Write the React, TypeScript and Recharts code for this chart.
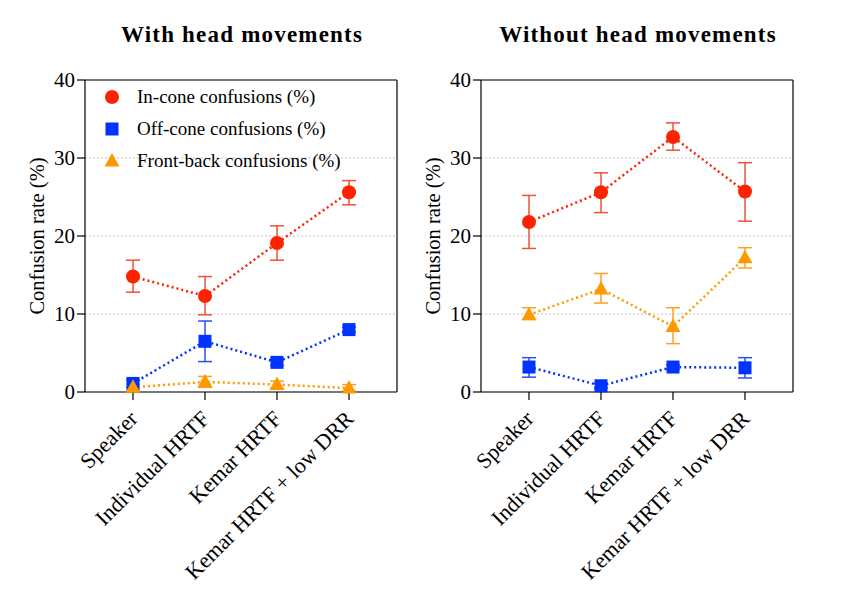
import React from 'react';
import { LineChart, Line, XAxis, YAxis, CartesianGrid, ErrorBar, Legend, ReferenceLine } from 'recharts';

const CATEGORIES = ['Speaker', 'Individual HRTF', 'Kemar HRTF', 'Kemar HRTF + low DRR'];

// With head movements
const WITH_IN_CONE = [14.8, 12.3, 19.1, 25.6];
const WITH_IN_CONE_LOW = [12.8, 9.9, 16.9, 24.0];
const WITH_IN_CONE_HIGH = [16.9, 14.8, 21.3, 27.1];
const WITH_OFF_CONE = [1.1, 6.5, 3.8, 8.0];
const WITH_OFF_CONE_LOW = [0.6, 3.9, 3.4, 7.7];
const WITH_OFF_CONE_HIGH = [1.6, 9.1, 4.2, 8.3];
const WITH_FRONT_BACK = [0.6, 1.3, 0.95, 0.5];
const WITH_FRONT_BACK_LOW = [0.2, 0.6, 0.5, 0.1];
const WITH_FRONT_BACK_HIGH = [1.0, 2.0, 1.4, 0.95];

// Without head movements
const WITHOUT_IN_CONE = [21.8, 25.6, 32.7, 25.7];
const WITHOUT_IN_CONE_LOW = [18.4, 23.0, 31.0, 21.9];
const WITHOUT_IN_CONE_HIGH = [25.2, 28.1, 34.5, 29.4];
const WITHOUT_OFF_CONE = [3.2, 0.8, 3.2, 3.1];
const WITHOUT_OFF_CONE_LOW = [1.9, 0.5, 2.9, 1.8];
const WITHOUT_OFF_CONE_HIGH = [4.4, 1.1, 3.5, 4.4];
const WITHOUT_FRONT_BACK = [9.9, 13.2, 8.4, 17.2];
const WITHOUT_FRONT_BACK_LOW = [9.3, 11.4, 6.2, 15.9];
const WITHOUT_FRONT_BACK_HIGH = [10.8, 15.2, 10.8, 18.5];

const Y_TICKS = [0, 10, 20, 30, 40];
const RIGHT_TICKS = Array.from({ length: 51 }, (_, i) => +(i * 0.8).toFixed(2));

const RED = '#ff2200';
const BLUE = '#0033ff';
const ORANGE = '#ff9900';
const FONT = '"Liberation Serif", "DejaVu Serif", serif';

const buildRows = (
  inCone: number[], inLow: number[], inHigh: number[],
  offCone: number[], offLow: number[], offHigh: number[],
  fb: number[], fbLow: number[], fbHigh: number[],
) =>
  CATEGORIES.map((name, i) => ({
    name,
    inCone: inCone[i],
    inConeErr: [inCone[i] - inLow[i], inHigh[i] - inCone[i]],
    offCone: offCone[i],
    offConeErr: [offCone[i] - offLow[i], offHigh[i] - offCone[i]],
    frontBack: fb[i],
    frontBackErr: [fb[i] - fbLow[i], fbHigh[i] - fb[i]],
  }));

const withData = buildRows(
  WITH_IN_CONE, WITH_IN_CONE_LOW, WITH_IN_CONE_HIGH,
  WITH_OFF_CONE, WITH_OFF_CONE_LOW, WITH_OFF_CONE_HIGH,
  WITH_FRONT_BACK, WITH_FRONT_BACK_LOW, WITH_FRONT_BACK_HIGH,
);
const withoutData = buildRows(
  WITHOUT_IN_CONE, WITHOUT_IN_CONE_LOW, WITHOUT_IN_CONE_HIGH,
  WITHOUT_OFF_CONE, WITHOUT_OFF_CONE_LOW, WITHOUT_OFF_CONE_HIGH,
  WITHOUT_FRONT_BACK, WITHOUT_FRONT_BACK_LOW, WITHOUT_FRONT_BACK_HIGH,
);

// marker shapes
const Marker = ({ kind, cx, cy, color }: { kind: string; cx: number; cy: number; color: string }) => {
  if (kind === 'circle') return <circle cx={cx} cy={cy} r={7} fill={color} />;
  if (kind === 'square') return <rect x={cx - 6.5} y={cy - 6.5} width={13} height={13} fill={color} />;
  return <polygon points={`${cx},${cy - 8} ${cx + 7.5},${cy + 5.5} ${cx - 7.5},${cy + 5.5}`} fill={color} />;
};

const makeDot = (kind: string, color: string) => (props: any) => (
  <Marker key={`${kind}-${props.index}`} kind={kind} cx={props.cx} cy={props.cy} color={color} />
);

const XTick = ({ x, y, payload }: any) => (
  <text
    transform={`translate(${x + 6},${y + 18}) rotate(-45)`}
    textAnchor="end"
    fontFamily={FONT}
    fontSize={22}
    fill="#000"
  >
    {payload.value}
  </text>
);

const RightTick = ({ x, y, payload }: any) => {
  const major = Math.round(payload.value / 0.8) % 10 === 0;
  return <line x1={x} x2={x + (major ? 7 : 4)} y1={y} y2={y} stroke="#000" strokeWidth={1} />;
};

const LEGEND_ORDER = ['inCone', 'offCone', 'frontBack'];
const LEGEND_SHAPES: Record<string, string> = { inCone: 'circle', offCone: 'square', frontBack: 'triangle' };

const LegendContent = ({ payload }: any) => {
  const items = [...(payload || [])].sort(
    (a: any, b: any) => LEGEND_ORDER.indexOf(a.dataKey) - LEGEND_ORDER.indexOf(b.dataKey),
  );
  return (
    <div style={{ fontFamily: FONT, fontSize: 19 }}>
      {items.map((entry: any) => (
        <div key={entry.dataKey} style={{ display: 'flex', alignItems: 'center', height: 32 }}>
          <svg width={30} height={20} style={{ marginRight: 7 }}>
            <Marker kind={LEGEND_SHAPES[entry.dataKey]} cx={12} cy={10} color={entry.color} />
          </svg>
          <span>{entry.value}</span>
        </div>
      ))}
    </div>
  );
};

interface PanelProps {
  data: any[];
  showLegend: boolean;
  width: number;
  leftWidth: number;
  labelX: number;
}

const Panel: React.FC<PanelProps> = ({ data, showLegend, width, leftWidth, labelX }) => {
  const plotWidth = 312;
  const rightWidth = width - leftWidth - plotWidth;
  return (
    <LineChart width={width} height={606} data={data} margin={{ top: 80, right: 0, bottom: 0, left: 0 }}>
      <CartesianGrid yAxisId="left" vertical={false} stroke="#b5b5b5" strokeDasharray="2 2" strokeWidth={0.8} />
      <XAxis
        dataKey="name"
        height={214}
        padding={{ left: 48, right: 48 }}
        interval={0}
        tickSize={8}
        tickLine={{ stroke: '#000', strokeWidth: 1.2 }}
        axisLine={{ stroke: '#000', strokeWidth: 1.2 }}
        tick={<XTick />}
      />
      <YAxis
        yAxisId="left"
        domain={[0, 40]}
        ticks={Y_TICKS}
        width={leftWidth}
        tickSize={8}
        tickMargin={2}
        tickLine={{ stroke: '#000', strokeWidth: 1.2 }}
        axisLine={{ stroke: '#000', strokeWidth: 1.2 }}
        tick={{ fontFamily: FONT, fontSize: 21, fill: '#000' }}
        label={({ viewBox }: any) => (
          <text
            transform={`translate(${labelX},${viewBox.y + viewBox.height / 2}) rotate(-90)`}
            textAnchor="middle"
            dominantBaseline="central"
            fontFamily={FONT}
            fontSize={20.5}
            fill="#000"
          >
            Confusion rate (%)
          </text>
        )}
      />
      <YAxis
        yAxisId="right"
        orientation="right"
        domain={[0, 40]}
        ticks={RIGHT_TICKS}
        interval={0}
        width={rightWidth}
        tickSize={0}
        tickMargin={0}
        tickLine={false}
        axisLine={{ stroke: '#000', strokeWidth: 1.2 }}
        tick={<RightTick />}
      />
      <ReferenceLine yAxisId="left" y={40} stroke="#000" strokeWidth={1.2} />
      {showLegend && (
        <Legend
          layout="vertical"
          align="center"
          verticalAlign="middle"
          content={<LegendContent />}
          wrapperStyle={{ position: 'absolute', left: 100, top: 81, width: 300, height: 100 }}
        />
      )}
      <Line
        yAxisId="left"
        dataKey="inCone"
        name="In-cone confusions (%)"
        stroke={RED}
        strokeWidth={2.5}
        strokeDasharray="2 3"
        dot={makeDot('circle', RED)}
        activeDot={false}
        isAnimationActive={false}
      >
        <ErrorBar dataKey="inConeErr" direction="y" width={7} stroke="#f25038" strokeWidth={1.5} />
      </Line>
      <Line
        yAxisId="left"
        dataKey="offCone"
        name="Off-cone confusions (%)"
        stroke={BLUE}
        strokeWidth={2.5}
        strokeDasharray="2 3"
        dot={makeDot('square', BLUE)}
        activeDot={false}
        isAnimationActive={false}
      >
        <ErrorBar dataKey="offConeErr" direction="y" width={7} stroke="#2a50ee" strokeWidth={1.5} />
      </Line>
      <Line
        yAxisId="left"
        dataKey="frontBack"
        name="Front-back confusions (%)"
        stroke={ORANGE}
        strokeWidth={2.5}
        strokeDasharray="2 3"
        dot={makeDot('triangle', ORANGE)}
        activeDot={false}
        isAnimationActive={false}
      >
        <ErrorBar dataKey="frontBackErr" direction="y" width={7} stroke="#ffa020" strokeWidth={1.5} />
      </Line>
    </LineChart>
  );
};

const titleStyle: React.CSSProperties = {
  position: 'absolute',
  top: 23,
  width: 400,
  textAlign: 'center',
  fontFamily: FONT,
  fontWeight: 'bold',
  fontSize: 23,
  letterSpacing: '1.2px',
  lineHeight: '24px',
  color: '#000',
};

export default function App() {
  return (
    <div style={{ position: 'absolute', left: 0, top: 0, width: 864, height: 606, background: '#fff' }}>
      <div style={{ position: 'absolute', left: 0, top: 0 }}>
        <Panel data={withData} showLegend width={432} leftWidth={85} labelX={37} />
      </div>
      <div style={{ position: 'absolute', left: 400, top: 0 }}>
        <Panel data={withoutData} showLegend={false} width={464} leftWidth={81} labelX={33} />
      </div>
      <div style={{ ...titleStyle, left: 242 - 200 }}>With head movements</div>
      <div style={{ ...titleStyle, left: 638 - 200 }}>Without head movements</div>
    </div>
  );
}
